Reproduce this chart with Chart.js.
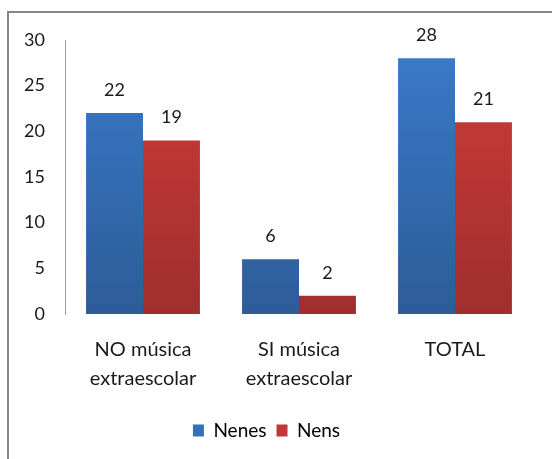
<!DOCTYPE html>
<html>
<head>
<meta charset="utf-8">
<script src="https://cdn.jsdelivr.net/npm/chart.js@4"></script>
<style>
  html, body { margin: 0; padding: 0; background: #fff; }
  #wrap { width: 552px; height: 459px; position: relative; }
</style>
</head>
<body>
<div id="wrap"><canvas id="chart"></canvas></div>
<script>
// ===== DATA =====
const categories = [['NO música', 'extraescolar'], ['SI música', 'extraescolar'], 'TOTAL'];
const nenesValues = [22, 6, 28];
const nensValues = [19, 2, 21];
const seriesNames = ['Nenes', 'Nens'];

const FONT = 'Lato';
const TEXT = '#1a1a1a';

function grad(top, bottom) {
  return (c) => {
    const area = c.chart.chartArea;
    if (!area) return top;
    const g = c.chart.ctx.createLinearGradient(0, area.top, 0, area.bottom);
    g.addColorStop(0, top);
    g.addColorStop(1, bottom);
    return g;
  };
}

// frame + value labels
const extras = {
  id: 'extras',
  beforeDraw(chart) {
    const ctx = chart.ctx;
    ctx.save();
    ctx.strokeStyle = '#868686';
    ctx.lineWidth = 2;
    ctx.beginPath();
    ctx.moveTo(8, 459);
    ctx.lineTo(8, 12);
    ctx.lineTo(552, 12);
    ctx.stroke();
    ctx.restore();
  },
  afterDatasetsDraw(chart) {
    const ctx = chart.ctx;
    ctx.save();
    ctx.font = '18px ' + FONT;
    ctx.fillStyle = TEXT;
    ctx.textAlign = 'center';
    ctx.textBaseline = 'middle';
    chart.data.datasets.forEach((ds, i) => {
      chart.getDatasetMeta(i).data.forEach((bar, j) => {
        ctx.fillText(ds.data[j], bar.x, bar.y - 23);
      });
    });
    ctx.restore();
  }
};

new Chart(document.getElementById('chart'), {
  type: 'bar',
  data: {
    labels: categories,
    datasets: [
      { label: seriesNames[0], data: nenesValues, backgroundColor: grad('#3b7acb', '#2d5c98'), borderWidth: 0 },
      { label: seriesNames[1], data: nensValues, backgroundColor: grad('#d03c38', '#9f2f2e'), borderWidth: 0 }
    ]
  },
  options: {
    responsive: true,
    maintainAspectRatio: false,
    animation: false,
    layout: { padding: { top: 40, right: 19, bottom: 9, left: 0 } },
    datasets: { bar: { categoryPercentage: 0.73, barPercentage: 1 } },
    plugins: {
      legend: {
        position: 'bottom',
        labels: {
          font: { family: FONT, size: 19 },
          color: TEXT,
          boxWidth: 11,
          boxHeight: 12,
          padding: 10,
          generateLabels(chart) {
            const fills = ['#3570b8', '#c0393a'];
            return chart.data.datasets.map((ds, i) => ({
              text: ds.label, fillStyle: fills[i], strokeStyle: fills[i], lineWidth: 0, datasetIndex: i
            }));
          }
        }
      },
      tooltip: { enabled: false }
    },
    scales: {
      x: {
        grid: { display: false, drawTicks: false },
        border: { display: false },
        ticks: { font: { family: FONT, size: 20, lineHeight: 1.45 }, color: TEXT, padding: 21, maxRotation: 0 },
        afterFit(axis) { axis.height = 97; }
      },
      y: {
        min: 0, max: 30,
        grid: { display: false, drawTicks: false },
        border: { display: true, color: '#a0a0a0', width: 1 },
        ticks: { stepSize: 5, font: { family: FONT, size: 18 }, color: TEXT, padding: 20 },
        afterFit(axis) { axis.width = 65; }
      }
    }
  },
  plugins: [extras]
});
</script>
</body>
</html>
